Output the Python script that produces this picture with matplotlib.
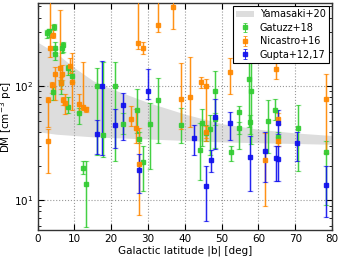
import numpy as np
import matplotlib
matplotlib.use('Agg')
import matplotlib.pyplot as plt
from matplotlib.ticker import NullFormatter

# Yamasaki+20 band (edges)
band_b = [0, 5, 10, 15, 20, 30, 40, 50, 60, 70, 80]
band_hi = [243, 195, 145, 112, 95, 72, 57, 47, 42, 39, 37]
band_lo = [40, 38, 37, 36, 35.5, 34.5, 33.5, 32.5, 32, 31.5, 31]

# Gatuzz+18
gat_b = [2.5, 3.0, 4.3, 4.7, 4.8, 6.5, 7.0, 8.1, 9.2, 6.3, 4.1, 8.3, 11.3, 16.0, 17.8, 21.0, 23.1,
         26.9, 27.4, 28.6, 30.6, 32.7, 12.3, 13.0, 39.0, 44.0, 44.6, 45.7, 46.9, 48.2, 48.2, 52.6,
         54.8, 54.6, 57.4, 58.1, 57.7, 62.5, 64.6, 65.3, 70.8, 78.4]
gat_dm = [290, 305, 327, 218, 191, 218, 232, 143, 122, 106, 89, 66, 58, 100, 37.7, 100, 47,
          62, 34.3, 21.8, 47, 75, 19.2, 13.8, 46, 27.5, 48, 39.3, 42, 91, 52, 26.4,
          59, 43, 115, 91, 48.6, 49.3, 62, 36.2, 43.3, 26.7]
gat_lo = [263, 270, 310, 195, 170, 195, 200, 125, 110, 85, 75, 58, 47, 25, 24, 22, 38,
          39, 32, 12.2, 19, 32, 17, 5.8, 32, 15, 30, 33, 25, 28.5, 46, 22,
          28, 38, 44, 31, 38, 26, 51, 32, 18, 9.2]
gat_hi = [310, 320, 350, 243, 210, 235, 245, 153, 135, 112, 98, 80, 65, 144, 162, 162, 58,
          94, 40, 30, 71, 118, 22, 22, 64, 48, 63, 46, 56, 136, 58, 30,
          67, 49, 176, 187, 56, 75, 77, 40, 69, 33]

# Nicastro+16
nic_b = [2.8, 2.7, 3.4, 4.2, 4.0, 6.1, 6.4, 7.0, 7.4, 9.2, 4.8, 6.6, 8.9, 11.3, 12.3, 13.0, 25.3,
         26.8, 27.4, 27.2, 28.7, 32.7, 36.7, 39.0, 41.5, 44.3, 45.7, 45.8, 52.4, 64.7, 65.2, 65.3,
         61.7, 78.4]
nic_dm = [75, 33.4, 217, 283, 103, 143, 107, 75, 71, 109, 127, 129, 150, 70, 66, 63, 52,
          43, 21, 240, 218, 345, 494, 78, 81, 109, 101, 39.5, 133, 141, 52, 32.8,
          22.6, 77]
nic_lo = [44, 17.3, 180, 263, 88, 113, 95, 69, 57, 62, 75, 113, 130, 60, 62, 60, 45,
          32, 7.4, 211, 191, 300, 316, 42, 44, 96.6, 33, 35, 86, 115, 47, 30,
          9, 26]
nic_hi = [80, 42, 700, 342, 110, 464, 120, 80, 85, 195, 147, 153, 175, 85, 162, 66, 67,
          63, 43, 700, 245, 700, 550, 161, 180, 121, 116, 45, 178, 187, 58, 36,
          39, 127]

# Gupta+12,17
gup_b = [17.5, 16.0, 21.0, 23.1, 27.5, 30.0, 42.5, 45.7, 47.2, 48.2, 52.4, 57.7, 61.7, 64.8,
         65.2, 65.3, 70.4, 78.4]
gup_dm = [100, 38, 45.5, 68, 18.3, 90, 35.5, 13.3, 22.6, 54, 47.7, 24, 27.3, 23.4,
          22.9, 48, 31.6, 13.5]
gup_lo = [25, 25.7, 29, 34, 11.5, 77, 25, 6.6, 17.6, 28, 34, 12, 14.4, 14.7,
          14.7, 38, 22, 7.2]
gup_hi = [166, 51, 63, 87, 25.3, 141, 46, 20.2, 27.5, 78, 60, 36.5, 40, 30,
          30, 62, 40, 20]

green = '#33cc33'
orange = '#ff8800'
blue = '#1010ee'

fig = plt.figure(figsize=(3.41, 2.57), dpi=100)
ax = fig.add_axes([0.1106, 0.105, 0.8630, 0.883])

ax.fill_between(band_b, band_lo, band_hi, color='#dddddd', lw=0, label='Yamasaki+20', zorder=1)


def draw(b, dm, lo, hi, col, ms, label):
    b = np.array(b)
    dm = np.array(dm)
    err = [dm - np.array(lo), np.array(hi) - dm]
    # wide light bars
    ax.errorbar(b, dm, yerr=err, fmt='none', ecolor=col, elinewidth=1.8, alpha=0.3,
                capsize=2, capthick=1.0, zorder=2)
    ax.errorbar(b, dm, yerr=err, fmt='s', color=col, ms=ms, mec=col, elinewidth=0.7,
                capsize=1.5, capthick=0.6, alpha=0.9, label=label, zorder=3)


draw(gat_b, gat_dm, gat_lo, gat_hi, green, 2.2, 'Gatuzz+18')
draw(nic_b, nic_dm, nic_lo, nic_hi, orange, 2.8, 'Nicastro+16')
draw(gup_b, gup_dm, gup_lo, gup_hi, blue, 2.8, 'Gupta+12,17')

ax.set_yscale('log')
ax.set_xlim(0, 80)
ax.set_ylim(5.5, 535)
ax.set_xticks(np.arange(0, 81, 10))
ax.yaxis.set_minor_formatter(NullFormatter())
ax.grid(True, which='major', ls=':', color='#999999', lw=0.8)
ax.tick_params(which='both', direction='in', top=True, right=True, labelsize=7.5, pad=3)
ax.tick_params(which='major', length=4)
ax.tick_params(which='minor', length=2)
for s in ax.spines.values():
    s.set_linewidth(1.0)
    s.set_color('#333333')

ax.set_xlabel('Galactic latitude |b| [deg]', fontsize=7.5, labelpad=1)
ax.set_ylabel(r'DM [cm$^{-3}$ pc]', fontsize=7.5, labelpad=0)

leg = ax.legend(loc='upper right', fontsize=7, fancybox=False, framealpha=1,
                edgecolor='black', borderpad=0.35, handlelength=1.8, labelspacing=0.35,
                handletextpad=0.6, borderaxespad=0.3)
leg.get_frame().set_linewidth(0.8)

fig.savefig('out.png', dpi=100)
